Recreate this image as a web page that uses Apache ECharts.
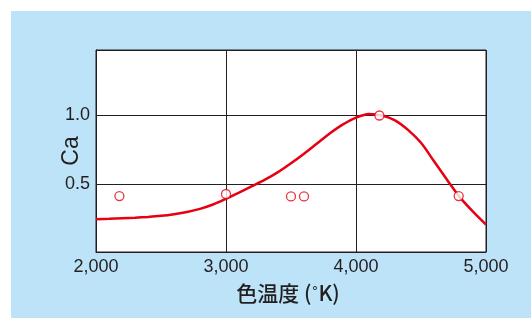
<!DOCTYPE html>
<html>
<head>
<meta charset="utf-8">
<script src="https://cdn.jsdelivr.net/npm/echarts@6/dist/echarts.min.js"></script>
<style>
html,body{margin:0;padding:0;background:#fff;}
#chart{width:531px;height:318px;}
</style>
</head>
<body>
<div id="chart"></div>
<script>
// Curve (color temperature K, Ca), every 100 K
var curveTemps = [2000, 2100, 2200, 2300, 2400, 2500, 2600, 2700, 2800, 2900, 3000, 3100, 3200, 3300, 3400, 3500, 3600, 3700, 3800, 3900, 4000, 4100, 4200, 4300, 4400, 4500, 4600, 4700, 4800, 4900, 5000];
var curveValues = [0.240, 0.243, 0.247, 0.251, 0.257, 0.265, 0.277, 0.293, 0.316, 0.348, 0.39, 0.435, 0.482, 0.53, 0.585, 0.65, 0.72, 0.795, 0.87, 0.935, 0.985, 1.012, 1.0, 0.965, 0.895, 0.80, 0.665, 0.53, 0.40, 0.295, 0.20];
// Measured points
var pointTemps = [2180, 3000, 3500, 3600, 4180, 4790];
var pointValues = [0.41, 0.425, 0.407, 0.407, 1.0, 0.41];
// Axis ticks
var xTicks = [2000, 3000, 4000, 5000];
var yTicks = [0.5, 1.0];
var xName = '色温度 (˚K)';
var yName = 'Ca';

var curveData = curveTemps.map(function (t, i) { return [t, curveValues[i]]; });
var pointData = pointTemps.map(function (t, i) { return [t, pointValues[i]]; });

var ink = '#231f20';
var chart = echarts.init(document.getElementById('chart'), null, {renderer: 'canvas'});
chart.setOption({
  backgroundColor: '#ffffff',
  animation: false,
  graphic: [{
    type: 'rect', z: -10, silent: true,
    shape: {x: 11, y: 11, width: 520, height: 307},
    style: {fill: '#bde3f8'}
  }],
  grid: {
    left: 96, right: 45, top: 50, bottom: 66,
    show: true, backgroundColor: '#ffffff', borderColor: ink, borderWidth: 1
  },
  xAxis: {
    type: 'value', min: 2000, max: 5000, interval: 1000,
    name: xName, nameLocation: 'middle', nameGap: 31, nameMoveOverlap: false,
    nameTextStyle: {fontFamily: 'Noto Sans CJK JP', fontSize: 21, color: ink, fontWeight: 500, padding: [0, 6, 0, 0]},
    axisLine: {show: true, lineStyle: {color: ink, width: 1}},
    axisTick: {show: false},
    axisLabel: {
      margin: 6, fontFamily: 'Liberation Sans, Arial', fontSize: 18, color: ink,
      formatter: function (v) { return xTicks.indexOf(v) >= 0 ? v.toLocaleString('en-US') : ''; }
    },
    splitLine: {show: true, lineStyle: {color: ink, width: 1}}
  },
  yAxis: {
    type: 'value', min: 0, max: 1.48, interval: 0.5,
    name: yName, nameLocation: 'middle', nameGap: 13, nameRotate: 90, nameMoveOverlap: false,
    nameTextStyle: {fontFamily: 'Liberation Sans, Arial', fontSize: 23, color: ink},
    axisLine: {show: true, lineStyle: {color: ink, width: 1}},
    axisTick: {show: false},
    axisLabel: {
      margin: 6, fontFamily: 'Liberation Sans, Arial', fontSize: 18, color: ink,
      showMaxLabel: false,
      formatter: function (v) {
        for (var i = 0; i < yTicks.length; i++) { if (Math.abs(v - yTicks[i]) < 1e-6) return yTicks[i].toFixed(1); }
        return '';
      }
    },
    splitLine: {show: true, lineStyle: {color: ink, width: 1}}
  },
  series: [{
    type: 'line', data: curveData, smooth: 0.3, symbol: 'none',
    lineStyle: {color: '#e60012', width: 2.5}, z: 3
  }, {
    type: 'scatter', data: pointData, symbol: 'circle', symbolSize: 9,
    itemStyle: {color: '#ffffff', borderColor: '#e60012', borderWidth: 1.3}, z: 4
  }]
});
</script>
</body>
</html>
